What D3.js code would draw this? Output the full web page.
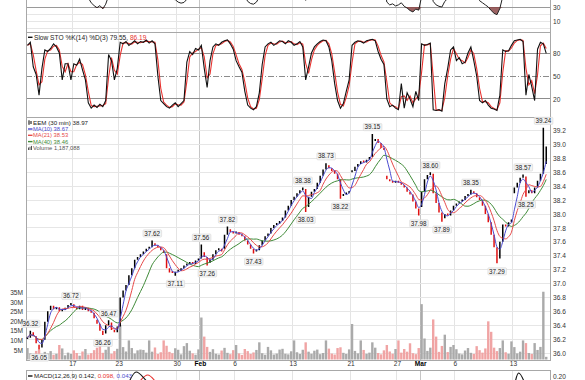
<!DOCTYPE html>
<html>
<head>
<meta charset="utf-8">
<script src="https://cdn.jsdelivr.net/npm/d3@7"></script>
<style>
  body { margin: 0; background: #fff; }
  svg { display: block; font-family: 'Liberation Sans', Arial, sans-serif; }
</style>
</head>
<body>
<svg></svg>
<script>
const [svgWidth, svgHeight] = [585, 380];
const perDay = 4; // points read per trading day

// x axis: trading-day index of each labelled date
const tickDays = [4, 8, 13, 15, 18, 23, 28, 32, 34, 37, 42];
const tickLabels = ['17', '23', '30', 'Feb', '6', '13', '21', '27', 'Mar', '6', '13'];

// EEM 30 min, Jan 10 - Mar 15
const dayOpens = [36.20, 36.12, 36.62, 36.60, 36.70, 36.62, 36.48, 36.40, 36.38, 37.12,
  37.42, 37.58, 37.42, 37.17, 37.28, 37.36, 37.34, 37.50, 37.72, 37.62,
  37.48, 37.72, 37.90, 38.20, 38.36, 38.36, 38.70, 38.50, 38.60, 38.76,
  39.05, 38.55, 38.48, 38.32, 38.10, 38.58, 37.94, 38.12, 38.26, 38.24,
  37.88, 37.60, 38.30, 38.54, 38.38];
const closes = [
  36.22, 36.30, 36.24, 36.14,  36.08, 36.19, 36.45, 36.60,  36.68, 36.63, 36.66, 36.60,
  36.62, 36.65, 36.69, 36.70,  36.66, 36.63, 36.68, 36.62,  36.65, 36.60, 36.58, 36.50,
  36.42, 36.32, 36.28, 36.40,  36.44, 36.33, 36.30, 36.38,  36.80, 36.90, 36.98, 37.12,
  37.22, 37.34, 37.38, 37.42,  37.46, 37.50, 37.52, 37.58,  37.55, 37.52, 37.48, 37.44,
  37.22, 37.16, 37.15, 37.17,  37.18, 37.22, 37.26, 37.28,  37.30, 37.28, 37.33, 37.36,
  37.45, 37.38, 37.30, 37.34,  37.42, 37.48, 37.50, 37.46,  37.70, 37.78, 37.74, 37.72,
  37.74, 37.70, 37.68, 37.62,  37.56, 37.50, 37.46, 37.48,  37.55, 37.62, 37.68, 37.72,
  37.80, 37.84, 37.86, 37.90,  37.95, 38.05, 38.12, 38.20,  38.25, 38.30, 38.34, 38.36,
  38.10, 38.25, 38.32, 38.36,  38.45, 38.55, 38.64, 38.70,  38.66, 38.62, 38.58, 38.50,
  38.26, 38.28, 38.30, 38.33,  38.62, 38.68, 38.72, 38.76,  38.74, 38.78, 38.82, 39.05,
  39.08, 39.02, 38.95, 38.92,  38.50, 38.47, 38.45, 38.48,  38.45, 38.42, 38.38, 38.32,
  38.28, 38.18, 38.08, 38.02,  38.32, 38.50, 38.56, 38.58,  38.30, 38.16, 38.02, 37.94,
  38.00, 37.98, 38.05, 38.12,  38.15, 38.18, 38.20, 38.26,  38.28, 38.32, 38.30, 38.24,
  38.20, 38.12, 38.00, 37.88,  37.70, 37.52, 37.36, 37.60,  37.85, 37.82, 37.88, 37.92,
  38.38, 38.45, 38.52, 38.54,  38.30, 38.34, 38.30, 38.38,  38.48, 38.58, 38.72, 38.97];
// volume, millions
const volumes = [
  6.0, 3.2, 2.1, 4.5,  5.2, 2.8, 4.0, 3.1,  4.4, 2.5, 3.0, 7.6,  5.8, 2.2, 3.6, 2.9,
  4.8, 3.4, 2.0, 4.2,  5.5, 2.6, 3.3, 4.9,  6.2, 10.0, 3.5, 5.1,  6.8, 3.0, 4.4, 5.6,
  18.0, 6.5, 4.2, 10.0,  6.0, 3.1, 4.8, 5.2,  5.0, 3.6, 10.0, 4.1,  6.3, 2.9, 3.8, 10.0,
  7.2, 4.0, 3.3, 5.9,  5.1, 2.7, 7.0, 8.6,  4.6, 3.2, 2.5, 5.3,  22.0, 12.0, 6.6, 4.0,
  5.4, 3.0, 2.6, 4.7,  6.1, 3.5, 2.8, 4.9,  7.6, 3.2, 2.4, 5.5,  4.4, 2.9, 3.7, 5.0,
  9.0, 3.3, 2.5, 6.6,  4.8, 2.6, 3.1, 5.2,  5.6, 3.0, 2.7, 4.3,  10.0, 3.8, 2.9, 5.1,
  9.0, 4.1, 3.0, 4.6,  5.2, 2.8, 3.4, 10.0,  5.7, 3.1, 2.6, 6.0,  6.4, 3.5, 2.9, 5.3,
  18.6, 4.5, 3.2, 10.0,  5.0, 3.0, 3.6, 9.0,  6.2, 3.4, 2.7, 4.8,  7.6, 4.2, 3.0, 5.5,
  10.0, 3.6, 5.5, 4.1,  8.5, 3.3, 2.8, 6.0,  29.0, 11.0, 4.5, 6.2,  21.0, 12.0, 4.0, 7.1,
  13.0, 3.9, 6.6, 7.6,  5.4, 3.1, 2.7, 4.7,  6.0, 3.5, 2.9, 7.0,  4.9, 3.6, 5.8, 20.0,
  14.5, 6.2, 4.4, 6.0,  10.0, 3.8, 3.0, 9.5,  6.5, 3.2, 4.1, 10.0,  8.6, 3.4, 2.9, 8.6,
  5.0, 6.6, 35.5, 1.4];
// labelled highs and lows: point index, price, side
const pivotIdx = [1, 4, 15, 26, 28, 43, 51, 60, 62, 69, 78, 95, 96, 103, 108, 119, 135, 139, 143, 153, 162, 171, 172, 178];
const pivotPrice = [36.32, 36.05, 36.72, 36.26, 36.47, 37.62, 37.11, 37.56, 37.26, 37.82, 37.43, 38.38, 38.03, 38.73, 38.22, 39.15, 37.98, 38.60, 37.89, 38.35, 37.29, 38.57, 38.25, 39.24];
const pivotSide = ['hi', 'lo', 'hi', 'lo', 'hi', 'hi', 'lo', 'hi', 'lo', 'hi', 'lo', 'hi', 'lo', 'hi', 'lo', 'hi', 'lo', 'hi', 'lo', 'hi', 'lo', 'hi', 'lo', 'hi'];

// Slow STO %K
const stochK = [
  90, 94, 62, 52,  25, 60, 84, 82,  86, 92, 88, 80,  45, 66, 66, 45,  66, 64, 72, 58,
  45, 15, 8, 12,  9, 13, 10, 18,  78, 70, 45, 60,  94, 92, 95, 90,  93, 96, 92, 95,
  94, 97, 93, 96,  92, 50, 18, 14,  10, 8, 12, 15,  10, 14, 18, 68,  82, 78, 86, 84,
  90, 60, 35, 70,  88, 92, 90, 94,  96, 97, 92, 85,  70, 62, 55, 30,  12, 8, 6, 10,
  28, 65, 88, 92,  94, 90, 93, 96,  95, 92, 96, 94,  90, 92, 95, 88,  45, 62, 80, 88,
  92, 95, 97, 96,  88, 70, 40, 18,  8, 14, 30, 45,  90, 94, 96, 95,  93, 96, 97, 98,
  96, 82, 72, 65,  20, 10, 12, 8,  6, 40, 8, 28,  20, 10, 30, 18,  92, 90, 91, 93,
  6, 5, 6, 4,  40, 60, 84, 88,  70, 74, 66, 68,  80, 88, 70, 50,  18, 15, 18, 12,
  8, 7, 5, 25,  84, 82, 83, 90,  96, 97, 98, 95,  25, 52, 36, 18,  85, 94, 92, 79.55];

// RSI (only the part below ~40 shows in the cropped top panel)
const rsi = [
  55, 58, 52, 48,  45, 50, 60, 65,  66, 62, 64, 60,  62, 64, 66, 67,  62, 60, 63, 58,
  50, 43, 36, 32,  29, 32, 27.5, 34,  46, 43, 41, 45,  60, 66, 70, 74,  76, 78, 77, 79,
  78, 79, 80, 81,  76, 70, 62, 56,  46, 43, 41, 40.5,  37, 35.5, 36.5, 41,  45, 44, 48, 50,
  60, 52, 45, 48,  54, 58, 59, 56,  68, 72, 68, 66,  66, 62, 58, 46,  38, 35, 34, 37,
  44, 52, 58, 62,  66, 68, 69, 71,  72, 74, 76, 78,  79, 80, 81, 82,  39.5, 55, 60, 62,
  66, 70, 74, 76,  70, 66, 62, 56,  44, 46, 48, 50,  66, 70, 72, 74,  73, 75, 77, 80,
  81, 74, 68, 64,  37, 33, 34.5, 31.5,  33, 36, 31, 28.5,  25, 23, 27, 25.5,  45, 55, 58, 60,
  38, 33, 31, 30,  38, 42, 46, 50,  52, 54, 55, 58,  59, 62, 60, 55,  39, 36, 33, 30,
  25, 21, 19, 28,  45, 44, 47, 50,  62, 66, 70, 71,  58, 60, 58, 62,  66, 70, 80, 74];

// MACD(12,26,9), one value per day (only tops above 0.20 show)
const macdLine = [0.02, 0.03, 0.06, 0.08, 0.09, 0.07, 0.02, -0.01, 0.12, 0.22, 0.17, 0.13,
  0.05, 0.02, 0.03, 0.05, 0.06, 0.08, 0.09, 0.05, 0.06, 0.09, 0.12, 0.14, 0.12, 0.14, 0.12, 0.03,
  0.08, 0.12, 0.13, 0.02, -0.04, -0.08, -0.02, -0.06, -0.07, -0.01, 0.02, -0.03, -0.12, -0.04, 0.215, 0.12, 0.142];
const macdSignal = [0.02, 0.02, 0.04, 0.06, 0.08, 0.08, 0.05, 0.02, 0.06, 0.15, 0.205, 0.15,
  0.10, 0.06, 0.05, 0.05, 0.06, 0.07, 0.08, 0.07, 0.07, 0.08, 0.10, 0.12, 0.12, 0.13, 0.13, 0.08,
  0.08, 0.10, 0.11, 0.07, 0.01, -0.04, -0.04, -0.05, -0.06, -0.04, -0.01, -0.02, -0.07, -0.06, 0.09, 0.11, 0.098];

const svg = d3.select('svg')
  .attr('width', svgWidth)
  .attr('height', svgHeight);

const [plotLeft, plotRight] = [26, 550];
const panels = {
  rsi: [-1, 32.5],
  sto: [32.5, 117.5],
  price: [117.5, 360.5],
  macd: [370.5, 383]
};

const x = d3.scaleLinear().domain([0, 45.2]).range([plotLeft, plotRight]);
const px = i => x((i + 0.5) / perDay);
const rsiY = d3.scaleLinear().domain([30, 10]).range([7, 21]);
const stoY = d3.scaleLinear().domain([0, 100]).range([114.3, 37.7]);
const priceY = d3.scaleLinear().domain([36, 39.2]).range([353, 130.6]);
const volY = d3.scaleLinear().domain([0, 35]).range([359.5, 292.7]);
const macdY = d3.scaleLinear().domain([0.2, 0.3]).range([376, 356]);

const defs = svg.append('defs');
Object.entries(panels).forEach(([k, [y0, y1]]) => {
  defs.append('clipPath').attr('id', 'clip-' + k)
    .append('rect')
    .attr('x', plotLeft).attr('y', y0)
    .attr('width', plotRight - plotLeft).attr('height', y1 - y0);
});

// grids
const grid = svg.append('g').attr('shape-rendering', 'crispEdges');
Object.values(panels).forEach(([y0, y1]) => {
  grid.append('g').selectAll('line')
    .data(tickDays)
    .enter().append('line')
    .attr('x1', d => x(d)).attr('x2', d => x(d))
    .attr('y1', y0).attr('y2', y1)
    .attr('stroke', (d, i) => isNaN(+tickLabels[i]) ? '#c6c6c6' : '#e4e4e4');
});
const hGrid = (vals, scale, color, dash) => {
  grid.append('g').selectAll('line')
    .data(vals)
    .enter().append('line')
    .attr('x1', plotLeft).attr('x2', plotRight)
    .attr('y1', d => scale(d)).attr('y2', d => scale(d))
    .attr('stroke', color)
    .attr('stroke-dasharray', dash || null);
};
hGrid([20, 10, 0], rsiY, '#e6e6e6');
hGrid([30], rsiY, '#9a9a9a');
hGrid(priceY.ticks(16), priceY, '#e6e6e6');
hGrid([80, 20], stoY, '#8c8c8c');
hGrid([50], stoY, '#8c8c8c', '6,2,1,2');

// panel frames
Object.values(panels).forEach(([y0, y1]) => {
  svg.append('rect')
    .attr('x', plotLeft).attr('y', y0)
    .attr('width', plotRight - plotLeft).attr('height', y1 - y0)
    .attr('fill', 'none')
    .attr('stroke', '#a8a8a8')
    .attr('shape-rendering', 'crispEdges');
});

// ---- RSI (cropped) ----
const rsiG = svg.append('g').attr('clip-path', 'url(#clip-rsi)');
rsiG.append('path')
  .datum(rsi)
  .attr('fill', '#8a4646')
  .attr('fill-opacity', 0.85)
  .attr('d', d3.area()
    .x((d, i) => px(i))
    .y0(rsiY(30))
    .y1(d => rsiY(Math.min(d, 30))));
rsiG.append('path')
  .datum(rsi)
  .attr('fill', 'none')
  .attr('stroke', '#222')
  .attr('stroke-width', 1)
  .attr('d', d3.line().x((d, i) => px(i)).y(d => rsiY(d)));

// ---- Slow stochastic ----
const stochD = stochK.map((d, i) => d3.mean(stochK.slice(Math.max(0, i - 1), i + 1)));
const stoG = svg.append('g').attr('clip-path', 'url(#clip-sto)');
stoG.append('path')
  .datum(stochD)
  .attr('fill', 'none')
  .attr('stroke', '#e8322f')
  .attr('stroke-width', 1.1)
  .attr('d', d3.line().x((d, i) => px(i)).y(d => stoY(d)));
stoG.append('path')
  .datum(stochK)
  .attr('fill', 'none')
  .attr('stroke', '#111')
  .attr('stroke-width', 1.1)
  .attr('d', d3.line().x((d, i) => px(i)).y(d => stoY(d)));

// ---- Price panel ----
const priceG = svg.append('g').attr('clip-path', 'url(#clip-price)');
const bars = closes.map((c, i) => {
  const o = i % perDay === 0 ? dayOpens[i / perDay] : closes[i - 1];
  const k = pivotIdx.indexOf(i);
  let hi = Math.max(o, c), lo = Math.min(o, c);
  if (k >= 0 && pivotSide[k] === 'hi') hi = Math.max(hi, pivotPrice[k]);
  if (k >= 0 && pivotSide[k] === 'lo') lo = Math.min(lo, pivotPrice[k]);
  return {i, o, c, hi, lo, v: volumes[i], up: c >= o};
});

priceG.append('g').selectAll('rect')
  .data(bars)
  .enter().append('rect')
  .attr('x', d => px(d.i) - 1.2)
  .attr('width', 2.4)
  .attr('y', d => volY(d.v))
  .attr('height', d => volY(0) - volY(d.v))
  .attr('fill', d => d.up ? '#aaaaaa' : '#f0a4a4');

priceG.append('g').selectAll('line')
  .data(bars)
  .enter().append('line')
  .attr('x1', d => px(d.i)).attr('x2', d => px(d.i))
  .attr('y1', d => Math.min(priceY(d.hi), priceY(d.lo) - 2))
  .attr('y2', d => priceY(d.lo))
  .attr('stroke', d => d.up ? '#000' : '#e01010')
  .attr('stroke-width', 1.5);

const movAvg = n => closes.map((c, i) => d3.mean(closes.slice(Math.max(0, i - n + 1), i + 1)));
const maDefs = [
  {n: 3, color: '#4a4ad0'},
  {n: 6, color: '#e64a4a'},
  {n: 12, color: '#3f8a38'}
];
maDefs.slice().reverse().forEach(m => {
  priceG.append('path')
    .datum(movAvg(m.n))
    .attr('fill', 'none')
    .attr('stroke', m.color)
    .attr('stroke-width', 1)
    .attr('d', d3.line().x((d, i) => px(i)).y(d => priceY(d)).curve(d3.curveMonotoneX));
});

// high / low labels
const pivots = pivotIdx.map((idx, k) => ({idx, p: pivotPrice[k], side: pivotSide[k]}));
const pivG = svg.append('g').attr('font-size', 6.3);
pivots.forEach(d => {
  const cx = px(d.idx);
  const cy = priceY(d.p) + (d.side === 'hi' ? -7 : 8);
  const t = pivG.append('text')
    .attr('x', cx).attr('y', cy + 2.2)
    .attr('text-anchor', 'middle')
    .attr('fill', '#222')
    .text(d.p.toFixed(2));
  const bb = t.node().getBBox();
  pivG.insert('rect', 'text')
    .attr('x', bb.x - 1.2).attr('y', cy - 3.6)
    .attr('width', bb.width + 2.4).attr('height', 7.2)
    .attr('rx', 1)
    .attr('fill', '#f3f3f3')
    .attr('stroke', '#d0d0d0')
    .attr('stroke-width', 0.5);
});

// ---- MACD (cropped) ----
const macdG = svg.append('g').attr('clip-path', 'url(#clip-macd)');
const dayX = (d, i) => x(i + 0.5);
macdG.append('path')
  .datum(macdSignal)
  .attr('fill', 'none').attr('stroke', '#e8322f').attr('stroke-width', 1.1)
  .attr('d', d3.line().x(dayX).y(d => macdY(d)).curve(d3.curveMonotoneX));
macdG.append('path')
  .datum(macdLine)
  .attr('fill', 'none').attr('stroke', '#111').attr('stroke-width', 1.1)
  .attr('d', d3.line().x(dayX).y(d => macdY(d)).curve(d3.curveMonotoneX));

// ---- axes ----
const styleAxis = g => {
  g.select('.domain').remove();
  g.selectAll('text').attr('fill', '#333').attr('font-size', 6.6)
    .attr('font-family', "'Liberation Sans', Arial, sans-serif");
};
svg.append('g')
  .attr('transform', `translate(${plotRight}, 0)`)
  .call(d3.axisRight(priceY).tickValues(priceY.ticks(16)).tickSize(0).tickPadding(3)
    .tickFormat(d3.format('.1f')))
  .call(styleAxis);
svg.append('g')
  .attr('transform', `translate(${plotRight}, 0)`)
  .call(d3.axisRight(stoY).tickValues([80, 50, 20]).tickSize(0).tickPadding(3))
  .call(styleAxis);
svg.append('g')
  .attr('transform', `translate(${plotRight}, 0)`)
  .call(d3.axisRight(rsiY).tickValues([30, 10]).tickSize(0).tickPadding(3))
  .call(styleAxis);
svg.append('g')
  .attr('transform', `translate(${plotRight}, 0)`)
  .call(d3.axisRight(macdY).tickValues([0.2]).tickSize(0).tickPadding(3)
    .tickFormat(d3.format('.2f')))
  .call(styleAxis);
svg.append('g')
  .attr('transform', `translate(${plotLeft - 3}, 0)`)
  .call(d3.axisLeft(volY).tickValues([5, 10, 15, 20, 25, 30, 35]).tickSize(0).tickPadding(0)
    .tickFormat(d => d + 'M'))
  .call(styleAxis);
svg.append('g')
  .attr('transform', `translate(0, ${panels.price[1]})`)
  .call(d3.axisBottom(x).tickValues(tickDays).tickSize(0).tickPadding(1)
    .tickFormat((d, i) => tickLabels[i]))
  .call(styleAxis)
  .call(g => g.selectAll('text')
    .attr('font-weight', (d, i) => isNaN(+tickLabels[i]) ? 'bold' : 'normal')
    .attr('fill', (d, i) => isNaN(+tickLabels[i]) ? '#000' : '#333'));

// ---- legends ----
const leg = svg.append('g').attr('font-size', 6.2).attr('fill', '#222');
const legendLine = (y, color) => leg.append('line')
  .attr('x1', 28).attr('x2', 32.5).attr('y1', y).attr('y2', y)
  .attr('stroke', color).attr('stroke-width', 1.4);

legendLine(37.3, '#111');
leg.append('text').attr('x', 34).attr('y', 39.6).attr('font-size', 6.6)
  .call(t => t.append('tspan').text('Slow STO %K(14) %D(3) 79.55, '))
  .call(t => t.append('tspan').attr('fill', '#e8322f').text('86.19'));

// price-bar icon
leg.append('line').attr('x1', 29).attr('x2', 29).attr('y1', 120.3).attr('y2', 124.8)
  .attr('stroke', '#000').attr('stroke-width', 1);
leg.append('line').attr('x1', 31).attr('x2', 31).attr('y1', 121).attr('y2', 124)
  .attr('stroke', '#000').attr('stroke-width', 1);
leg.append('text').attr('x', 33).attr('y', 124.8).text('EEM (30 min) 38.97');

const maLegend = [['MA(10) 38.67', '#4a4ad0'], ['MA(21) 38.53', '#e64a4a'], ['MA(40) 38.46', '#3f8a38']];
maLegend.forEach(([label, color], k) => {
  const y = 129 + k * 6.3;
  legendLine(y, color);
  leg.append('text').attr('x', 33).attr('y', y + 2.1).attr('fill', color).attr('font-size', 5.8).text(label);
});
[28, 29.5, 31].forEach((bx, k) => {
  leg.append('rect').attr('x', bx).attr('y', 147.5 - k * 0.8).attr('width', 1)
    .attr('height', 2.5 + k * 0.8).attr('fill', '#555');
});
leg.append('text').attr('x', 33).attr('y', 149.9).attr('fill', '#555').attr('font-size', 5.8)
  .text('Volume 1,187,088');

legendLine(376, '#111');
leg.append('text').attr('x', 34).attr('y', 378.2)
  .call(t => t.append('tspan').text('MACD(12,26,9) 0.142, '))
  .call(t => t.append('tspan').attr('fill', '#e8322f').text('0.098, '))
  .call(t => t.append('tspan').attr('fill', '#5050d0').text('0.043'));
</script>
</body>
</html>
